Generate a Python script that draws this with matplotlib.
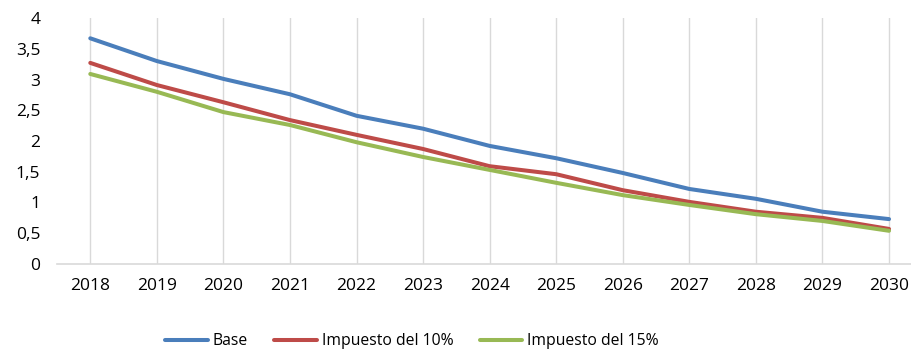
import numpy as np
import matplotlib
matplotlib.use("Agg")
import matplotlib.pyplot as plt

years = ['2018', '2019', '2020', '2021', '2022', '2023', '2024',
         '2025', '2026', '2027', '2028', '2029', '2030']
base = [3.67, 3.30, 3.01, 2.76, 2.41, 2.20, 1.92, 1.72, 1.48, 1.22, 1.06, 0.85, 0.73]
imp10 = [3.27, 2.91, 2.63, 2.34, 2.10, 1.87, 1.59, 1.46, 1.20, 1.01, 0.85, 0.75, 0.57]
imp15 = [3.09, 2.80, 2.47, 2.26, 1.98, 1.74, 1.53, 1.32, 1.12, 0.96, 0.81, 0.70, 0.54]
yticks = [0, 0.5, 1, 1.5, 2, 2.5, 3, 3.5, 4]

plt.rcParams['font.family'] = ['Open Sans', 'DejaVu Sans']

W, H = 911, 352
fig = plt.figure(figsize=(W / 100, H / 100), dpi=100)
# plot area in pixels: left 57, top 18, bottom 264
ax = fig.add_axes([57 / W, (H - 264) / H, (911 - 57) / W, (264 - 18) / H])

x = np.arange(len(years))
lw = 2.9
ax.plot(x, base, color='#4A7EBB', lw=lw, label='Base', solid_capstyle='round')
ax.plot(x, imp10, color='#BE4B48', lw=lw, label='Impuesto del 10%', solid_capstyle='round')
ax.plot(x, imp15, color='#98B954', lw=lw, label='Impuesto del 15%', solid_capstyle='round')

for xi in x:
    ax.axvline(xi, color='#d9d9d9', lw=1, zorder=0)

ax.set_ylim(0, 4)
ax.set_xlim(-0.5, 12.33)
ax.set_yticks(yticks)
ax.set_yticklabels([('%g' % t).replace('.', ',') for t in yticks])
ax.set_xticks(x)
ax.set_xticklabels(years)

for s in ['top', 'right', 'left']:
    ax.spines[s].set_visible(False)
ax.spines['bottom'].set_color('#d9d9d9')
ax.spines['bottom'].set_linewidth(1.2)
ax.tick_params(axis='both', length=0, labelsize=12.5, colors='#000000')
ax.tick_params(axis='y', pad=12)
ax.tick_params(axis='x', pad=10)

fig.legend(loc='center', bbox_to_anchor=(412 / W, 1 - 341 / H), ncol=3,
           frameon=False, fontsize=11.3, handlelength=2.7, handletextpad=0.3,
           columnspacing=1.7)

fig.savefig('out.png', dpi=100)
